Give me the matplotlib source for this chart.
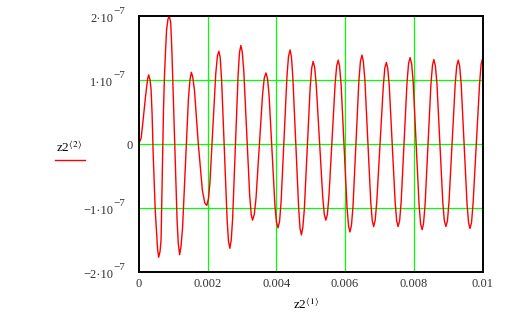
import matplotlib
matplotlib.use('Agg')
import matplotlib.pyplot as plt
from matplotlib.lines import Line2D
import matplotlib.transforms as mtransforms

plt.rcParams['font.family'] = 'Liberation Serif'
plt.rcParams['mathtext.fontset'] = 'stix'

# readings: time in ms, value in units of 1e-7
t_ms = [0, 0.07, 0.12, 0.16, 0.20, 0.24, 0.26, 0.29, 0.33, 0.36, 0.39, 0.42, 0.45, 0.48, 0.52, 0.55, 0.58,
        0.62, 0.65, 0.68, 0.72, 0.75, 0.78, 0.81, 0.85, 0.89,
        0.93, 0.965, 1.04, 1.115, 1.15, 1.19,
        1.23, 1.275, 1.36, 1.445, 1.49, 1.53,
        1.57, 1.62, 1.73, 1.85, 1.92, 1.98,
        2.03, 2.07, 2.155, 2.24, 2.29, 2.33,
        2.37, 2.41, 2.49, 2.57, 2.61, 2.65,
        2.69, 2.73, 2.81, 2.89, 2.93, 2.97,
        3.01, 3.055, 3.14, 3.225, 3.27, 3.31,
        3.36, 3.41, 3.505, 3.60, 3.65, 3.70,
        3.745, 3.79, 3.875, 3.96, 4.005, 4.05,
        4.095, 4.14, 4.225, 4.31, 4.355, 4.40,
        4.44, 4.48, 4.565, 4.65, 4.69, 4.73,
        4.77, 4.815, 4.90, 4.985, 5.03, 5.07,
        5.115, 5.16, 5.255, 5.35, 5.395, 5.44,
        5.485, 5.53, 5.62, 5.71, 5.755, 5.80,
        5.84, 5.885, 5.97, 6.055, 6.10, 6.14,
        6.185, 6.23, 6.315, 6.40, 6.445, 6.49,
        6.53, 6.575, 6.66, 6.745, 6.79, 6.83,
        6.875, 6.92, 7.015, 7.11, 7.155, 7.20,
        7.24, 7.285, 7.37, 7.455, 7.50, 7.54,
        7.585, 7.63, 7.715, 7.80, 7.845, 7.89,
        7.935, 7.98, 8.065, 8.15, 8.195, 8.24,
        8.28, 8.325, 8.41, 8.495, 8.54, 8.58,
        8.625, 8.67, 8.755, 8.84, 8.885, 8.93,
        8.975, 9.02, 9.11, 9.20, 9.245, 9.29,
        9.33, 9.375, 9.46, 9.545, 9.59, 9.63,
        9.675, 9.72, 9.815, 9.91, 9.955, 10.0]
z_e7 = [0, 0.09, 0.33, 0.54, 0.75, 0.93, 1.02, 1.08, 1.00, 0.85, 0.46, -0.14, -0.61, -1.03, -1.39, -1.65, -1.77,
        -1.68, -1.50, -0.66, 0.52, 1.08, 1.45, 1.78, 1.95, 2.00,
        1.90, 1.45, 0.14, -1.18, -1.55, -1.73,
        -1.60, -1.31, -0.31, 0.70, 1.00, 1.12,
        1.05, 0.85, 0.02, -0.72, -0.92, -0.96,
        -0.85, -0.61, 0.25, 1.10, 1.38, 1.45,
        1.35, 1.00, -0.09, -1.18, -1.52, -1.63,
        -1.50, -1.17, -0.05, 1.08, 1.43, 1.54,
        1.44, 1.14, 0.18, -0.79, -1.10, -1.19,
        -1.10, -0.85, -0.04, 0.77, 1.03, 1.11,
        1.02, 0.76, -0.10, -0.96, -1.22, -1.31,
        -1.21, -0.90, 0.08, 1.06, 1.37, 1.47,
        1.36, 1.05, 0.03, -1.00, -1.32, -1.42,
        -1.31, -1.02, -0.07, 0.89, 1.19, 1.29,
        1.20, 0.93, 0.05, -0.83, -1.10, -1.19,
        -1.10, -0.82, 0.06, 0.94, 1.22, 1.31,
        1.21, 0.92, -0.03, -0.98, -1.28, -1.375,
        -1.27, -0.97, 0.01, 0.98, 1.29, 1.39,
        1.29, 1.00, 0.05, -0.90, -1.20, -1.29,
        -1.19, -0.91, -0.01, 0.90, 1.19, 1.275,
        1.18, 0.90, -0.01, -0.91, -1.20, -1.29,
        -1.20, -0.90, 0.03, 0.96, 1.26, 1.35,
        1.25, 0.96, 0.01, -0.95, -1.25, -1.34,
        -1.24, -0.95, -0.01, 0.93, 1.23, 1.32,
        1.22, 0.94, 0.02, -0.91, -1.20, -1.29,
        -1.20, -0.91, 0.01, 0.93, 1.22, 1.31,
        1.22, 0.93, -0.01, -0.94, -1.23, -1.32,
        -1.23, -0.93, 0.01, 0.95, 1.25, 1.34]

x_ticks = [0, 0.002, 0.004, 0.006, 0.008, 0.01]
x_ticklabels = ['0', '0.002', '0.004', '0.006', '0.008', '0.01']
y_ticks = [2e-7, 1e-7, 0, -1e-7, -2e-7]
y_mant = ['2\u00b710', '1\u00b710', '0', '\u22121\u00b710', '\u22122\u00b710']

t = [v * 1e-3 for v in t_ms]
z = [v * 1e-7 for v in z_e7]

fig = plt.figure(figsize=(5.13, 3.15), dpi=100)
ax = fig.add_axes([138.7 / 513, 43 / 315, 344 / 513, 256 / 315])

for xv in x_ticks[1:]:
    ax.axvline(xv, color='#00ff00', lw=0.9, zorder=1)
for yv in [1e-7, 0, -1e-7]:
    ax.axhline(yv, color='#00ff00', lw=0.9, zorder=1)

ax.plot(t, z, color='red', lw=1.0, zorder=2)

ax.set_xlim(0, 0.01)
ax.set_ylim(-2e-7, 2e-7)
for s in ax.spines.values():
    s.set_linewidth(1.4)
    s.set_color('black')
    s.set_zorder(3)

ax.set_xticks(x_ticks)
ax.set_xticklabels(x_ticklabels)
ax.tick_params(axis='x', length=0, pad=4, labelsize=9, labelcolor='#333333')
ax.set_yticks([])

# y tick labels in Mathcad style: mantissa + raised exponent
blend = mtransforms.blended_transform_factory(ax.transAxes, ax.transData)
for yv, m in zip(y_ticks, y_mant):
    if m == '0':
        ax.annotate(m, xy=(0, yv), xycoords=blend, xytext=(-4.1, -3.6),
                    textcoords='offset points', ha='right', va='baseline',
                    fontsize=9, color='#333333', annotation_clip=False)
        continue
    ax.annotate(m, xy=(0, yv), xycoords=blend, xytext=(-18.5, -4.3),
                textcoords='offset points', ha='right', va='baseline',
                fontsize=9, color='#333333', annotation_clip=False)
    ax.annotate('\u22127', xy=(0, yv), xycoords=blend, xytext=(-18.0, 1.1),
                textcoords='offset points', ha='left', va='baseline',
                fontsize=8, color='#333333', annotation_clip=False)

# axis labels
fig.text(56 / 513, (315 - 151.7) / 315, r'z2$^{\langle 2\rangle}$', fontsize=9.5,
         ha='left', va='baseline')
fig.lines.append(Line2D([55 / 513, 85 / 513], [155 / 315, 155 / 315],
                        transform=fig.transFigure, color='red', lw=1.0))
fig.text(292.7 / 513, (315 - 309) / 315, r'z2$^{\langle 1\rangle}$', fontsize=9.5,
         ha='left', va='baseline')

fig.savefig('out.png', dpi=100)
